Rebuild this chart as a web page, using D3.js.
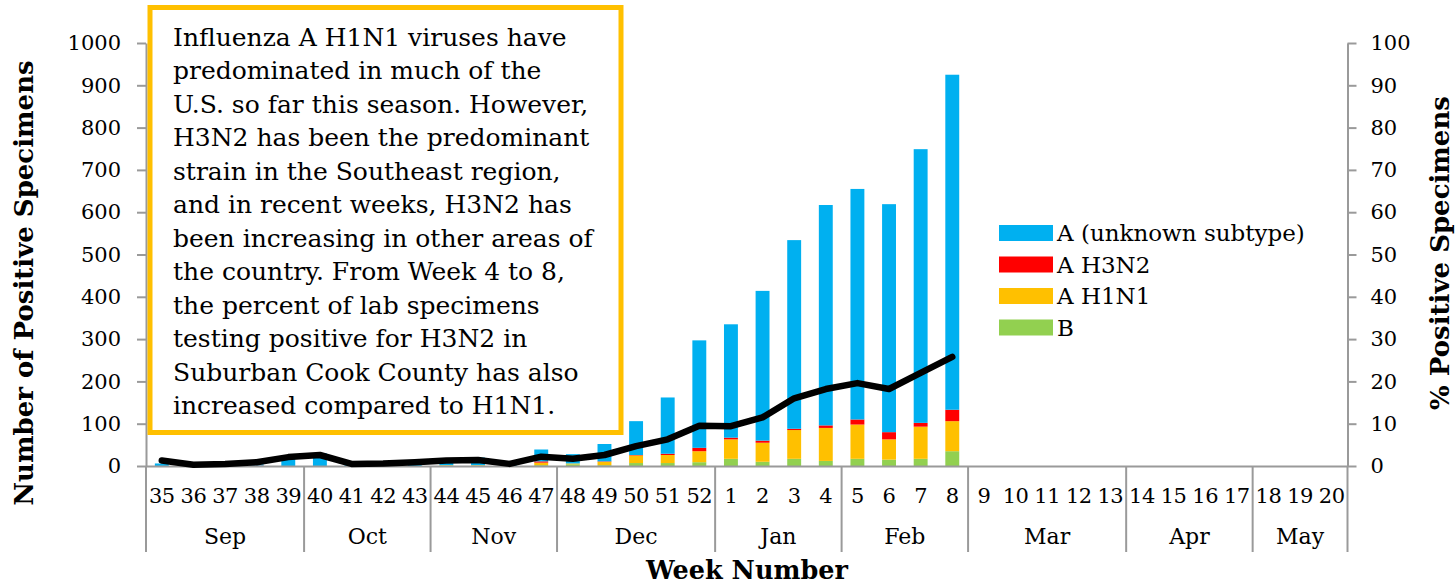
<!DOCTYPE html>
<html>
<head>
<meta charset="utf-8">
<script src="https://cdn.jsdelivr.net/npm/d3@7"></script>
<style>
  body { margin: 0; background: #fff; }
  svg { display: block; }
  text { font-family: "DejaVu Serif", Georgia, serif; fill: #000; }
</style>
</head>
<body>
<svg id="chart" width="1456" height="586"></svg>
<script>
// week numbers on the x axis, Sep to May
var weeks = ["35","36","37","38","39","40","41","42","43","44","45","46","47","48","49","50","51","52",
             "1","2","3","4","5","6","7","8","9","10","11","12","13","14","15","16","17","18","19","20"];
var months = ["Sep","Oct","Nov","Dec","Jan","Feb","Mar","Apr","May"];
var monthWeeks = [5, 4, 4, 5, 4, 4, 5, 4, 3];

// counts of positive specimens (weeks 35..8, nothing after week 8)
var fluB     = [0,0,0,0,0,0,0,0,0,1,1,0,2,4,2,7,7,9, 17,10,17,12,17,15,17,35];
var aH1N1    = [0,0,0,0,0,0,0,0,0,1,1,0,6,2,8,18,19,26, 46,45,68,78,81,48,76,71];
var aH3N2    = [0,0,0,1,0,0,0,0,0,0,0,0,3,0,1,1,3,8, 4,5,3,6,12,17,9,27];
var aUnknown = [6,2,2,3,18,30,3,3,4,16,18,4,28,22,41,80,133,254, 268,354,446,521,545,539,647,792];
// % positive specimens (right axis)
var pctPositive = [1.3,0.3,0.5,0.9,2.1,2.6,0.5,0.6,0.9,1.3,1.4,0.5,2.2,1.7,2.6,4.7,6.3,9.5,
                   9.4,11.5,16.0,18.2,19.6,18.2,22.0,25.8];

var leftTicks = [0,100,200,300,400,500,600,700,800,900,1000];
var rightTicks = [0,10,20,30,40,50,60,70,80,90,100];

var seriesKeys = ["B", "A H1N1", "A H3N2", "A (unknown subtype)"];
var seriesColor = {"B":"#92D050", "A H1N1":"#FFC000", "A H3N2":"#FF0000", "A (unknown subtype)":"#00B0F0"};
var legendOrder = ["A (unknown subtype)", "A H3N2", "A H1N1", "B"];

var noteLines = [
  "Influenza A H1N1 viruses have",
  "predominated in much of the",
  "U.S. so far this season. However,",
  "H3N2 has been the predominant",
  "strain in the Southeast region,",
  "and in recent weeks, H3N2 has",
  "been increasing in other areas of",
  "the country. From Week 4 to 8,",
  "the percent of lab specimens",
  "testing positive for H3N2 in",
  "Suburban Cook County has also",
  "increased compared to H1N1."
];

var rows = weeks.map(function(w, i) {
  return {
    week: w,
    "B": fluB[i] || 0,
    "A H1N1": aH1N1[i] || 0,
    "A H3N2": aH3N2[i] || 0,
    "A (unknown subtype)": aUnknown[i] || 0
  };
});

var svg = d3.select("#chart");
var plotLeft = 146, plotRight = 1347.5, plotTop = 43, plotBottom = 466;
var axisColor = "#9a9a9a";

var x = d3.scaleBand().domain(weeks).range([plotLeft, plotRight]).paddingInner(0.56).paddingOuter(0.28);
var y = d3.scaleLinear().domain([0, 1000]).range([plotBottom, plotTop]);
var y2 = d3.scaleLinear().domain([0, 100]).range([plotBottom, plotTop]);
var step = x.step();

var stacked = d3.stack().keys(seriesKeys)(rows);

svg.append("g").selectAll("g").data(stacked).enter().append("g")
  .attr("fill", function(d) { return seriesColor[d.key]; })
  .selectAll("rect").data(function(d) { return d; }).enter().append("rect")
  .attr("x", function(d) { return x(d.data.week); })
  .attr("width", x.bandwidth())
  .attr("y", function(d) { return y(d[1]); })
  .attr("height", function(d) { return y(d[0]) - y(d[1]); });

function styleAxis(g, size) {
  g.select(".domain").attr("stroke", axisColor).attr("stroke-width", 2);
  g.selectAll(".tick line").attr("stroke", axisColor).attr("stroke-width", 2);
  g.selectAll(".tick text").style("font-size", size).style("font-family", "'DejaVu Serif', serif");
}

// left axis
var gl = svg.append("g").attr("transform", "translate(" + plotLeft + ",0)")
  .call(d3.axisLeft(y).tickValues(leftTicks).tickFormat(d3.format("d"))
        .tickSize(9).tickPadding(16).tickSizeOuter(0));
styleAxis(gl, "21px");

// right axis
var gr = svg.append("g").attr("transform", "translate(" + plotRight + ",0)")
  .call(d3.axisRight(y2).tickValues(rightTicks).tickFormat(d3.format("d"))
        .tickSize(9).tickPadding(14).tickSizeOuter(0));
styleAxis(gr, "21px");

// bottom axis: week labels then month groups
var gb = svg.append("g").attr("transform", "translate(0," + plotBottom + ")")
  .call(d3.axisBottom(x).tickSize(0).tickPadding(22).tickSizeOuter(0));
styleAxis(gb, "21px");
gb.selectAll(".tick text").attr("letter-spacing", "-0.5");

var start = 0;
var monthSpans = months.map(function(m, i) {
  var s = { name: m, last: weeks[start + monthWeeks[i] - 1] };
  start += monthWeeks[i];
  return s;
});
// each month ends at the outer edge of its last week's step
var edges = [plotLeft].concat(monthSpans.map(function(s) {
  return plotLeft + (weeks.indexOf(s.last) + 1) * step;
}));
svg.append("g").selectAll("line").data(edges).enter().append("line")
  .attr("x1", function(d) { return d; }).attr("x2", function(d) { return d; })
  .attr("y1", plotBottom).attr("y2", 552)
  .attr("stroke", axisColor).attr("stroke-width", 2);

svg.append("g").selectAll("text").data(monthSpans).enter().append("text")
  .attr("x", function(s, i) { return (edges[i] + edges[i + 1]) / 2; })
  .attr("y", 544)
  .attr("text-anchor", "middle")
  .style("font-size", "22px")
  .text(function(s) { return s.name; });

// % positive line
var line = d3.line()
  .x(function(d, i) { return x(weeks[i]) + x.bandwidth() / 2; })
  .y(function(d) { return y2(d); });
svg.append("path").datum(pctPositive)
  .attr("d", line)
  .attr("fill", "none").attr("stroke", "#000")
  .attr("stroke-width", 6.5).attr("stroke-linejoin", "round").attr("stroke-linecap", "round");

// axis titles
svg.append("text")
  .attr("transform", "translate(33,283) rotate(-90)")
  .attr("text-anchor", "middle")
  .style("font-size", "26px").style("font-weight", "bold")
  .text("Number of Positive Specimens");
svg.append("text")
  .attr("transform", "translate(1449,253) rotate(-90)")
  .attr("text-anchor", "middle")
  .style("font-size", "26px").style("font-weight", "bold")
  .text("% Positive Specimens");
svg.append("text")
  .attr("x", 747).attr("y", 579)
  .attr("text-anchor", "middle")
  .style("font-size", "25.5px").style("font-weight", "bold")
  .text("Week Number");

// legend
var lg = svg.append("g").selectAll("g").data(legendOrder).enter().append("g")
  .attr("transform", function(d, i) { return "translate(999," + (233 + i * 31.5) + ")"; });
lg.append("rect").attr("x", 0).attr("y", -8).attr("width", 54).attr("height", 16)
  .attr("fill", function(d) { return seriesColor[d]; });
lg.append("text").attr("x", 58).attr("y", 8)
  .style("font-size", "23px")
  .text(function(d) { return d; });

// note box
svg.append("rect")
  .attr("x", 150).attr("y", 7.5).attr("width", 471).attr("height", 425)
  .attr("fill", "#fff").attr("stroke", "#FFC000").attr("stroke-width", 5);
svg.append("g").selectAll("text").data(noteLines).enter().append("text")
  .attr("x", 173)
  .attr("y", function(d, i) { return 46 + i * 33.45; })
  .style("font-size", "25px")
  .text(function(d) { return d; });
</script>
</body>
</html>
